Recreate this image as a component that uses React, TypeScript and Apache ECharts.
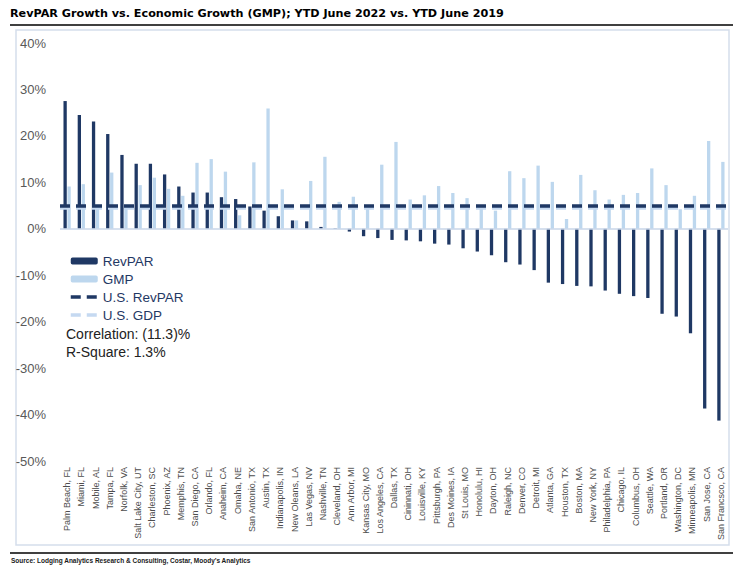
import React, { useEffect, useRef } from "react";
import * as echarts from "echarts";

const CITIES = [
  "Palm Beach, FL", "Miami, FL", "Mobile, AL", "Tampa, FL", "Norfolk, VA",
  "Salt Lake City, UT", "Charleston, SC", "Phoenix, AZ", "Memphis, TN", "San Diego, CA",
  "Orlando, FL", "Anaheim, CA", "Omaha, NE", "San Antonio, TX", "Austin, TX",
  "Indianapolis, IN", "New Oleans, LA", "Las Vegas, NV", "Nashville, TN", "Cleveland, OH",
  "Ann Arbor, MI", "Kansas City, MO", "Los Angeles, CA", "Dallas, TX", "Cininnati, OH",
  "Louisville, KY", "Pittsburgh, PA", "Des Moines, IA", "St Louis, MO", "Honolulu, HI",
  "Dayton, OH", "Raleigh, NC", "Denver, CO", "Detroit, MI", "Atlanta, GA",
  "Houston, TX", "Boston, MA", "New York, NY", "Philadelphia, PA", "Chicago, IL",
  "Columbus, OH", "Seattle, WA", "Portland, OR", "Washington, DC", "Minneapolis, MN",
  "San Jose, CA", "San Francsco, CA",
];

const REVPAR = [
  27.5, 24.5, 23.1, 20.4, 15.9,
  14.0, 14.0, 11.7, 9.1, 7.8,
  7.8, 6.8, 6.4, 4.8, 3.9,
  2.7, 1.8, 1.6, 0.4, 0.1,
  -0.6, -1.6, -2.0, -2.4, -2.5,
  -2.7, -3.2, -3.4, -4.2, -4.9,
  -5.7, -7.2, -7.7, -8.9, -11.6,
  -11.9, -12.3, -12.4, -13.3, -14.0,
  -14.5, -14.9, -18.3, -18.9, -22.5,
  -38.7, -41.3,
];

const GMP = [
  9.1, 9.6, 4.8, 12.1, 4.4,
  9.4, 11.0, 8.6, 7.1, 14.2,
  15.0, 12.3, 2.9, 14.3, 25.9,
  8.5, 1.8, 10.3, 15.5, 5.8,
  6.9, 4.2, 13.8, 18.7, 6.3,
  7.2, 9.2, 7.7, 6.6, 4.3,
  3.9, 12.4, 10.9, 13.6, 10.1,
  2.1, 11.6, 8.3, 6.3, 7.3,
  7.7, 13.0, 9.4, 4.2, 7.1,
  18.9, 14.4,
];

const US_REVPAR = 5.0;
const US_GDP = 4.5;

const TITLE = "RevPAR Growth vs. Economic Growth (GMP); YTD June 2022 vs. YTD June 2019";
const SOURCE = "Source: Lodging Analytics Research & Consulting, Costar, Moody\u2019s Analytics";
const STATS = ["Correlation: (11.3)%", "R-Square: 1.3%"];

const DARK = "#1F3864";
const LIGHT = "#BDD7EE";
const LIGHT_DASH = "#C5D9F1";

export default function App() {
  const ref = useRef<HTMLDivElement>(null);
  useEffect(() => {
    if (!ref.current) return;
    const chart = echarts.init(ref.current, undefined, { renderer: "svg" });
    const dashed = (color: string) => ({ color, width: 3.5, type: [10, 6] as any });
    chart.setOption({
      animation: false,
      backgroundColor: "#ffffff",
      grid: { left: 60, right: 17, top: 43, bottom: 108, containLabel: false },
      legend: {
        orient: "vertical",
        left: 64,
        top: 249,
        itemWidth: 27,
        itemHeight: 7,
        itemGap: 4,
        textStyle: { color: DARK, fontSize: 13.5, fontFamily: "Liberation Sans" },
        data: [
          { name: "RevPAR" },
          { name: "GMP" },
          { name: "U.S. RevPAR", itemStyle: { opacity: 0 }, lineStyle: { width: 3.5 } },
          { name: "U.S. GDP", itemStyle: { opacity: 0 }, lineStyle: { width: 3.5 } },
        ],
      },
      xAxis: {
        type: "category",
        data: CITIES,
        axisLine: { show: false, onZero: false },
        axisTick: { show: false },
        axisLabel: {
          rotate: 90,
          interval: 0,
          margin: 6,
          fontSize: 9,
          color: "#4d4d4d",
          fontFamily: "Liberation Sans",
        },
      },
      yAxis: {
        type: "value",
        min: -50,
        max: 40,
        interval: 10,
        axisLine: { show: false },
        axisTick: { show: false },
        splitLine: { show: false },
        axisLabel: {
          formatter: "{value}%",
          fontSize: 13,
          color: "#595959",
          margin: 14,
          fontFamily: "Liberation Sans",
        },
      },
      series: [
        {
          name: "RevPAR",
          type: "bar",
          data: REVPAR,
          barWidth: 3.3,
          barGap: "20%",
          itemStyle: { color: DARK },
          markLine: {
            silent: true,
            symbol: "none",
            label: { show: false },
            lineStyle: { color: "#C9D6E8", width: 1.5, type: "solid" },
            data: [{ yAxis: 0 }],
          },
        },
        {
          name: "GMP",
          type: "bar",
          data: GMP,
          barWidth: 3.3,
          itemStyle: { color: LIGHT },
        },
        {
          name: "U.S. GDP",
          type: "line",
          data: [],
          symbol: "none",
          itemStyle: { color: LIGHT_DASH },
          lineStyle: dashed(LIGHT_DASH),
          z: 3,
          markLine: {
            silent: true,
            symbol: "none",
            label: { show: false },
            lineStyle: dashed(LIGHT_DASH),
            data: [{ yAxis: US_GDP }],
          },
        },
        {
          name: "U.S. RevPAR",
          type: "line",
          data: [],
          symbol: "none",
          itemStyle: { color: DARK },
          lineStyle: dashed(DARK),
          z: 4,
          markLine: {
            silent: true,
            symbol: "none",
            label: { show: false },
            lineStyle: dashed(DARK),
            data: [{ yAxis: US_REVPAR }],
          },
        },
      ],
      graphic: [
        {
          type: "text",
          left: 10,
          top: 8,
          style: {
            text: TITLE,
            fontSize: 11.2,
            fontWeight: "bold",
            fontFamily: "DejaVu Sans",
            fill: "#000",
          },
        },
        {
          type: "line",
          shape: { x1: 10, y1: 25, x2: 733, y2: 25 },
          style: { stroke: "#000", lineWidth: 1.5 },
        },
        {
          type: "rect",
          shape: { x: 16, y: 30, width: 713, height: 515 },
          style: { fill: "none", stroke: "#D5DEEB", lineWidth: 1.5 },
          z: -1,
        },
        {
          type: "text",
          left: 66,
          top: 325,
          style: {
            text: STATS.join("\n"),
            fontSize: 14,
            lineHeight: 18,
            fontFamily: "Liberation Sans",
            fill: "#222",
          },
        },
        {
          type: "line",
          shape: { x1: 10, y1: 553, x2: 733, y2: 553 },
          style: { stroke: "#000", lineWidth: 1.5 },
        },
        {
          type: "text",
          left: 11,
          top: 557,
          style: {
            text: SOURCE,
            fontSize: 6.5,
            fontWeight: "bold",
            fontFamily: "Liberation Sans",
            fill: "#1a1a1a",
          },
        },
      ],
    });
    return () => chart.dispose();
  }, []);
  return (
    <div
      ref={ref}
      style={{ position: "fixed", left: 0, top: 0, width: 745, height: 569 }}
    />
  );
}
